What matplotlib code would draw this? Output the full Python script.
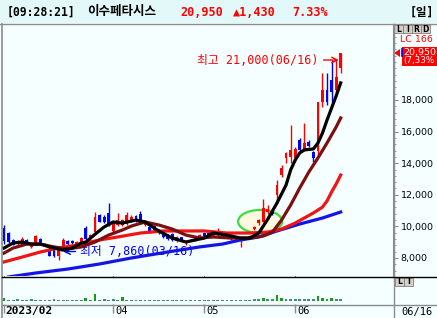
import matplotlib.pyplot as plt
import matplotlib.patches as mpatches
from matplotlib.lines import Line2D
import numpy as np

W, H = 437, 318

# daily candles, day 0 = 2023-02-27 ... day 74 = 2023-06-16
opens = [9900, 9580, 9140, 8900, 8820, 9150, 8700, 8850, 9200, 8800,
         8600, 8500, 8150, 8700, 9100, 9100, 8800, 8900, 9900, 9200,
         9640, 10700, 10600, 10850, 9700, 10100, 10100, 10150, 10400, 10650,
         10800, 10100, 9950, 10000, 9800, 9650, 9450, 9500, 9050, 9300,
         8950, 9150, 9100, 9250, 9550, 9600, 9350, 9450, 9550, 9300,
         9300, 9250, 9150, 9250, 9350, 9850, 10200, 10300, 10900, 10950,
         11990, 13250, 14330, 14400, 14300, 15470, 14900, 15350, 14700, 14800,
         17870, 18630, 19270, 18630, 20030]
highs = [10100, 9650, 9200, 9150, 9300, 9200, 8950, 9450, 9250, 8950,
         8650, 8550, 8700, 9250, 9150, 9150, 9050, 9300, 10000, 9500,
         10900, 10800, 10700, 11480, 10300, 10850, 10450, 10900, 10700, 10700,
         10950, 10400, 10000, 10100, 9850, 9700, 9500, 9550, 9400, 9350,
         9150, 9200, 9350, 9500, 9600, 9650, 9600, 9900, 9600, 9500,
         9350, 9300, 9300, 9350, 9450, 10000, 10450, 11730, 11350, 11000,
         12940, 13900, 14720, 16420, 15000, 15600, 16540, 15450, 14800, 17900,
         19710, 19710, 20530, 20530, 21000]
lows = [8900, 8950, 8800, 8850, 8760, 8850, 8650, 8800, 8900, 8750,
        8100, 8050, 7860, 8650, 8850, 8900, 8750, 8850, 9100, 9150,
        9600, 10250, 10200, 10000, 9650, 10050, 10000, 10100, 10300, 10300,
        10300, 10000, 9600, 9700, 9500, 9250, 9150, 9100, 9000, 9050,
        8800, 9050, 9050, 9200, 9350, 9400, 9300, 9400, 9350, 9250,
        9150, 9100, 8700, 9200, 9300, 9800, 10100, 10250, 10800, 10700,
        11400, 13100, 14010, 14010, 14100, 14700, 14800, 15000, 14080, 14500,
        17560, 17700, 17870, 18500, 19710]
closes = [9050, 9010, 8820, 9100, 9200, 8900, 8850, 9400, 8950, 8900,
          8150, 8100, 8600, 9150, 8900, 8950, 9000, 9250, 9200, 9450,
          10600, 10300, 10250, 10090, 10200, 10400, 10400, 10750, 10600, 10350,
          10400, 10300, 9650, 9800, 9550, 9300, 9200, 9150, 9350, 9100,
          9100, 9100, 9300, 9450, 9400, 9450, 9550, 9500, 9400, 9450,
          9200, 9150, 9250, 9300, 9400, 9950, 10400, 11160, 11100, 10800,
          12620, 13700, 14650, 14840, 14900, 14840, 15300, 15100, 14330, 17870,
          18630, 17870, 18510, 19460, 20950]

# volume (10k shares)
volume = [25, 12, 12, 14, 12, 12, 14, 12, 12, 12,
          12, 14, 12, 12, 12, 12, 12, 12, 30, 12,
          70, 12, 14, 12, 14, 12, 40, 12, 12, 12,
          12, 12, 12, 12, 12, 12, 12, 12, 12, 12,
          12, 12, 12, 12, 12, 12, 12, 12, 12, 12,
          12, 12, 12, 12, 12, 14, 14, 30, 14, 14,
          60, 30, 16, 18, 16, 16, 16, 16, 16, 50,
          30, 20, 30, 20, 16]

# moving averages: (day, price)
ma5_x = [0, 2, 4, 6, 8, 10, 13, 15, 17, 18, 20, 22, 24, 26, 29, 31, 34, 37,
         40, 42, 44, 46, 49, 52, 54, 56, 58, 60, 62, 63, 64, 65, 66, 67, 68,
         69, 70, 71, 72, 73, 74]
ma5_y = [8630, 8950, 9010, 8880, 8880, 8700, 8500, 8630, 8950, 9010, 9500,
         9960, 10280, 10210, 10400, 10280, 9710, 9260, 9010, 9140, 9260, 9580,
         9450, 9260, 9260, 9580, 10470, 11480, 12620, 13570, 14200, 14650,
         14840, 14870, 14900, 15280, 15910, 16730, 17490, 18250, 19080]
ma10_x = [0, 2, 5, 8, 11, 14, 17, 20, 23, 26, 28, 31, 34, 37, 40, 43, 46,
          50, 54, 57, 59, 61, 63, 65, 67, 69, 71, 73, 74]
ma10_y = [8310, 8630, 8880, 8880, 8700, 8570, 8700, 9010, 9450, 9770, 10020,
          10280, 10090, 9830, 9450, 9260, 9330, 9260, 9260, 9390, 9640, 10400,
          11350, 12430, 13440, 14330, 15280, 16290, 16860]
ma20_x = [0, 4, 8, 12, 16, 21, 25, 30, 35, 40, 44, 49, 54, 58, 61, 64, 66,
          68, 70, 71, 72, 73, 74]
ma20_y = [7750, 8060, 8380, 8630, 8820, 9140, 9330, 9580, 9710, 9710, 9710,
          9580, 9580, 9640, 9830, 10210, 10530, 10850, 11220, 11610, 12180,
          12680, 13250]
ma60_x = [1, 7, 14, 21, 28, 36, 43, 48, 52, 56, 60, 65, 70, 74]
ma60_y = [6800, 7050, 7300, 7620, 8000, 8380, 8700, 8880, 9140, 9330, 9710,
          10150, 10530, 10910]

month_ticks = [0, 24, 44, 64]
month_labels = ['2023/02', '04', '05', '06']
price_ticks = [8000, 10000, 12000, 14000, 16000, 18000]

UP, DOWN = '#ff0000', '#0000ff'
BG, HEAD = '#f5ffff', '#e3f8f8'
GRID = '#8c8c8c'
CJK = ['DejaVu Sans Mono', 'Noto Sans CJK KR']

fig = plt.figure(figsize=(W / 100, H / 100), dpi=100, facecolor=BG)


def fig_rect(x0, y0, x1, y1):
    return [x0 / W, 1 - y1 / H, (x1 - x0) / W, (y1 - y0) / H]


# header bar
fig.patches.append(mpatches.Rectangle((0, 1 - 23 / H), 1, 23 / H, transform=fig.transFigure,
                                      facecolor=HEAD, edgecolor='none', zorder=0))
fig.lines.append(Line2D([0, 1], [1 - 23.5 / H] * 2, transform=fig.transFigure, color=GRID, lw=1))
head_y = 1 - 12 / H
fig.text(7 / W, head_y, '[09:28:21]', family='DejaVu Sans Mono', weight='bold', size=8.3, va='center')
fig.text(87 / W, head_y, '이수페타시스', family='Noto Sans CJK KR', weight='bold', size=9, va='center')
fig.text(180 / W, head_y, '20,950', family='DejaVu Sans Mono', weight='bold', size=8.5, va='center', color=UP)
fig.text(233 / W, head_y, '▲1,430', family='DejaVu Sans Mono', weight='bold', size=8.5, va='center', color=UP)
fig.text(292 / W, head_y, '7.33%', family='DejaVu Sans Mono', weight='bold', size=8.5, va='center', color=UP)
fig.text(410 / W, head_y, '[일]', family=CJK, weight='bold', size=8.3, va='center')

# frame lines
fig.lines.append(Line2D([1.5 / W] * 2, [0, 1 - 24 / H], transform=fig.transFigure, color=GRID, lw=1.2))
fig.lines.append(Line2D([393.5 / W] * 2, [0, 1 - 24 / H], transform=fig.transFigure, color=GRID, lw=1))
fig.lines.append(Line2D([2 / W, 1], [1 - 276.5 / H] * 2, transform=fig.transFigure, color='black', lw=1))
fig.lines.append(Line2D([2 / W, 1], [1 - 304.5 / H] * 2, transform=fig.transFigure, color=GRID, lw=1))

# price panel
ax = fig.add_axes(fig_rect(2, 24, 393, 276))
ax.set_facecolor(BG)
ax.set_xlim(-0.44, 85.5)
ax.set_ylim(6860, 22810)
for s in ['top', 'left', 'bottom']:
    ax.spines[s].set_visible(False)
ax.spines['right'].set_color(GRID)
ax.yaxis.tick_right()
ax.set_xticks([])
ax.set_yticks(price_ticks)
ax.set_yticklabels([f'{v:,}' for v in price_ticks], family='DejaVu Sans', size=6.8)
ax.set_yticks(np.arange(7200, 22801, 400), minor=True)
ax.tick_params(axis='y', which='major', length=3.6, color=GRID, pad=2)
ax.tick_params(axis='y', which='minor', length=2.2, color=GRID)

x = np.arange(len(closes))
o, h, l, c = map(np.array, (opens, highs, lows, closes))
col = np.where(c >= o, UP, DOWN)
ax.vlines(x, l, h, colors=col, lw=1, zorder=3)
body = np.maximum(np.abs(c - o), 40)
ax.bar(x, body, bottom=np.minimum(o, c), width=0.62, color=col, zorder=3)

ax.add_patch(mpatches.Ellipse((56.3, 10310), 9.7, 1460, facecolor='#fdf9df',
                              edgecolor='#3ddc3d', lw=1.6, zorder=2))

ax.plot(ma60_x, ma60_y, color='#1414e6', lw=2.3, zorder=4)
ax.plot(ma20_x, ma20_y, color='#f01414', lw=2.3, zorder=4)
ax.plot(ma10_x, ma10_y, color='#7c1010', lw=2.3, zorder=4)
ax.plot(ma5_x, ma5_y, color='black', lw=2.3, zorder=5)

# high / low notes
ax.text(42.4, 20530, '최고 21,000(06/16)', family=CJK, size=8.5, color=UP, va='center', zorder=6)
ax.annotate('', xy=(74.2, 20530), xytext=(69.6, 20530),
            arrowprops=dict(arrowstyle='->', color=UP, lw=1), zorder=6)
ax.text(16.7, 8410, '최저 7,860(03/16)', family=CJK, size=8.5, color=DOWN, va='center', zorder=1)
ax.annotate('', xy=(12.4, 8410), xytext=(16.3, 8410),
            arrowprops=dict(arrowstyle='->', color=DOWN, lw=1), zorder=1)

# right panel marks
fig.text(400 / W, 1 - 39 / H, 'LC 166', family='DejaVu Sans', size=6.8, color=UP, va='center')
fig.patches.append(mpatches.Rectangle((402 / W, 1 - 66 / H), 35 / W, 19 / H, transform=fig.transFigure,
                                      facecolor=UP, edgecolor='none'))
fig.text(403 / W, 1 - 52 / H, '20,950', family='DejaVu Sans', size=6.8, color='white', va='center')
fig.text(403 / W, 1 - 61 / H, '(7,33%', family='DejaVu Sans', size=6.3, color='white', va='center')
fig.patches.append(mpatches.Polygon([(394 / W, 1 - 53 / H), (400 / W, 1 - 49 / H), (400 / W, 1 - 57 / H)],
                                    closed=True, transform=fig.transFigure, facecolor=UP, edgecolor='none'))
fig.lines.append(Line2D([401.5 / W] * 2, [1 - 49 / H, 1 - 56 / H], transform=fig.transFigure, color=DOWN, lw=1.2))


def buttons(x0, y0, letters):
    for k, ch in enumerate(letters):
        fig.patches.append(mpatches.Rectangle(((x0 + 9 * k) / W, 1 - (y0 + 8) / H), 8.5 / W, 8 / H,
                                              transform=fig.transFigure, facecolor='#d4d0c8',
                                              edgecolor='#808080', lw=0.6))
        fig.text((x0 + 9 * k + 4.3) / W, 1 - (y0 + 4) / H, ch, size=5.5, weight='bold',
                 ha='center', va='center')


buttons(394, 25, 'LIRD')
buttons(395, 278, 'LI')

# volume panel
vax = fig.add_axes(fig_rect(2, 277, 393, 304), sharex=ax)
vax.set_facecolor(BG)
vax.set_ylim(-33, 237)
for s in ['top', 'left', 'right', 'bottom']:
    vax.spines[s].set_visible(False)
vax.set_yticks([])
vc = ['#12a012' if v > 20 else '#3a8f7a' for v in volume]
vax.bar(x, volume, width=0.62, color=vc)
vax.set_xticks(month_ticks)
vax.set_xticklabels([])
vax.tick_params(axis='x', length=6.5, color=GRID, width=1)
for t, lab in zip(month_ticks, month_labels):
    vax.text(t + 0.4, -0.27, lab, transform=vax.get_xaxis_transform(), family='DejaVu Sans Mono',
             size=8 if t == 0 else 7.5, weight='bold' if t == 0 else 'normal', va='center')
fig.text(401 / W, 1 - 312 / H, '06/16', family='DejaVu Sans Mono', size=7.5, va='center')

fig.savefig('out.png', dpi=100, facecolor=BG)
